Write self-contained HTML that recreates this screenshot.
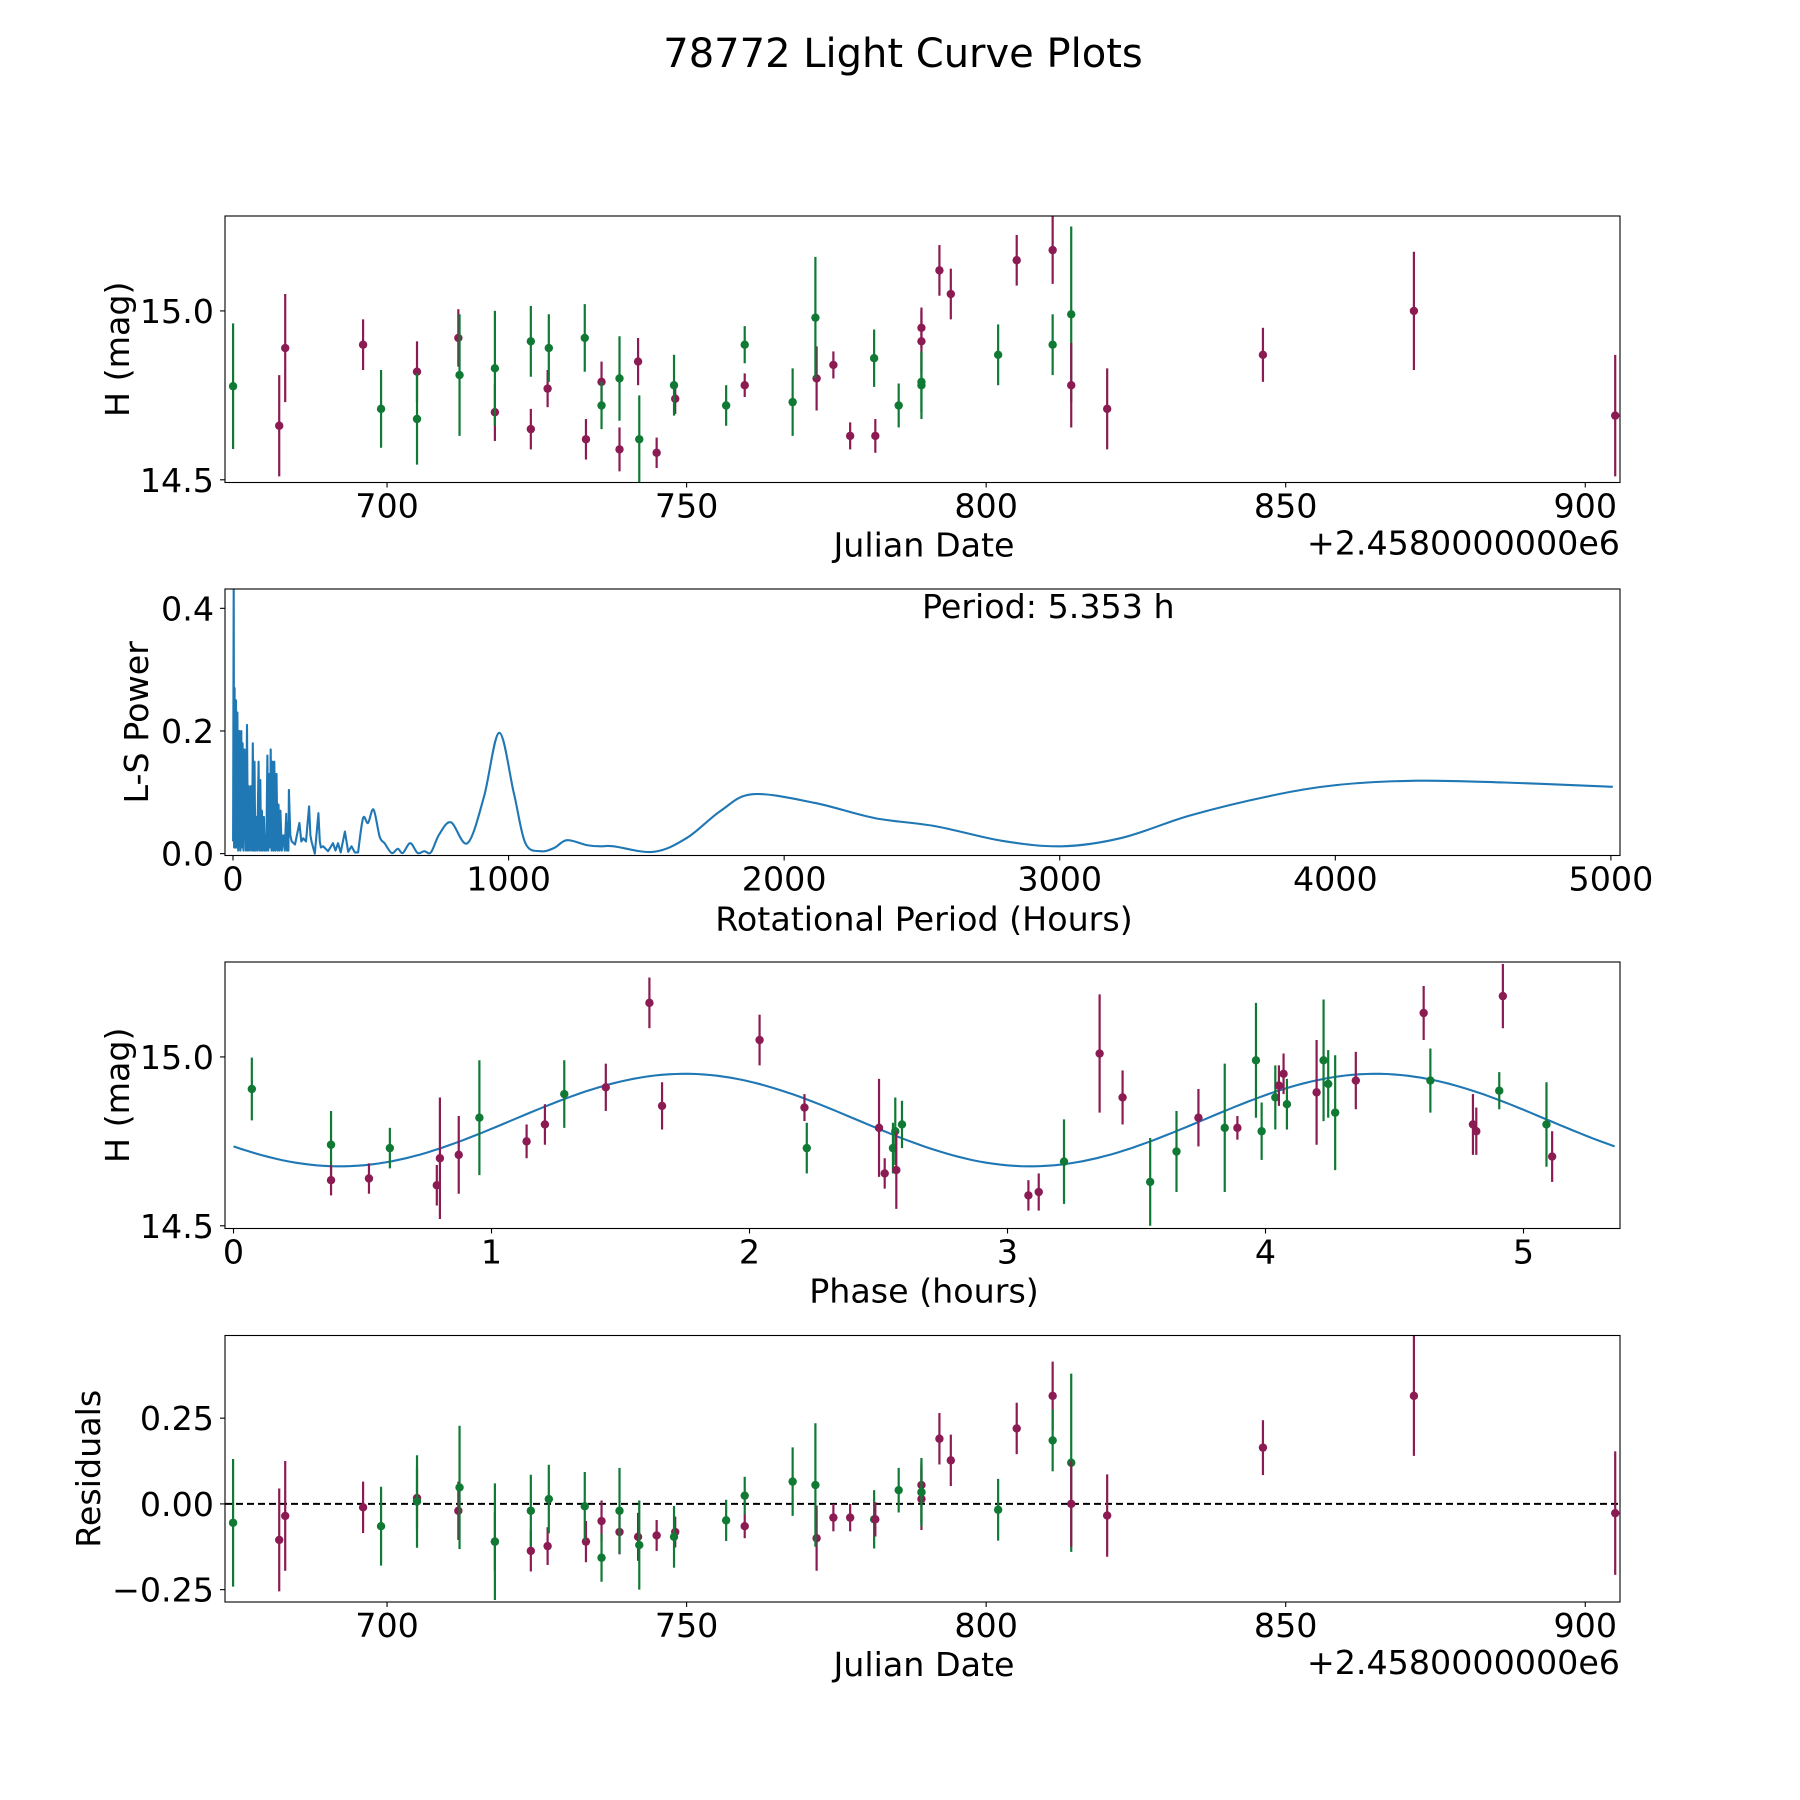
<!DOCTYPE html>
<html><head><meta charset="utf-8"><title>78772 Light Curve Plots</title>
<style>
html,body{margin:0;padding:0;background:#fff;}
svg{display:block;font-family:"DejaVu Sans","Liberation Sans",sans-serif;}
</style></head>
<body>
<svg id="fig" xmlns="http://www.w3.org/2000/svg" width="1800" height="1800" viewBox="0 0 1800 1800">
<rect x="0" y="0" width="1800" height="1800" fill="#fff"/>
<text x="903" y="67" font-size="40" text-anchor="middle">78772 Light Curve Plots</text>
</svg>
<script>
// ---------- data ----------
const obsBand = ["g","m","m","m","g","m","g","m","g","m","g","m","g","m","g","m","g","m","g","m","g","m","g","m","m","g","g","m","g","g","m","g","m","m","g","m","g","m","m","g","g","m","m","g","m","m","g","g","m","m","m","m","m"];
const obsJD = [674.3,682.0,683.0,696.0,699.0,705.0,705.0,711.9,712.1,718.0,718.0,724.0,724.0,726.8,727.0,733.2,733.0,735.8,735.8,738.8,738.8,741.9,742.1,745.0,748.1,747.9,756.6,759.7,759.7,767.7,771.7,771.5,774.5,777.3,781.3,781.5,785.4,789.2,789.2,789.2,789.2,792.2,794.1,802.0,805.1,811.1,811.1,814.2,814.2,820.2,846.2,871.4,905.0];
const obsMag = [14.777,14.66,14.89,14.90,14.71,14.82,14.68,14.92,14.81,14.70,14.83,14.65,14.91,14.77,14.89,14.62,14.92,14.79,14.72,14.59,14.80,14.85,14.62,14.58,14.74,14.78,14.72,14.78,14.90,14.73,14.80,14.98,14.84,14.63,14.86,14.63,14.72,14.91,14.95,14.79,14.78,15.12,15.05,14.87,15.15,15.18,14.90,14.99,14.78,14.71,14.87,15.00,14.69];
const obsErr = [0.186,0.15,0.16,0.075,0.115,0.09,0.135,0.085,0.18,0.085,0.17,0.06,0.105,0.055,0.10,0.06,0.10,0.06,0.07,0.065,0.125,0.07,0.13,0.045,0.045,0.09,0.06,0.035,0.055,0.10,0.095,0.18,0.04,0.04,0.085,0.05,0.065,0.09,0.06,0.09,0.1,0.075,0.075,0.09,0.075,0.10,0.09,0.26,0.125,0.12,0.08,0.175,0.18];
const obsResid = [-0.055,-0.105,-0.035,-0.01,-0.065,0.017,0.007,-0.02,0.048,-0.11,-0.11,-0.137,-0.02,-0.123,0.014,-0.11,-0.007,-0.05,-0.157,-0.082,-0.02,-0.096,-0.12,-0.092,-0.082,-0.096,-0.048,-0.065,0.024,0.065,-0.10,0.055,-0.04,-0.04,-0.045,-0.045,0.04,0.014,0.055,0.034,0.034,0.19,0.127,-0.017,0.22,0.315,0.185,0.12,0.0,-0.034,0.164,0.315,-0.027];

const phBand = ["g","g","m","m","g","m","m","m","g","m","m","g","m","m","m","m","m","g","m","m","g","g","m","g","m","m","g","m","m","g","g","m","g","m","g","g","g","m","m","g","m","g","g","g","m","m","g","m","m","g","m","g","m"];
const phPhase = [0.071,0.378,0.378,0.525,0.606,0.788,0.80,0.873,0.953,1.136,1.207,1.282,1.443,1.612,1.661,2.039,2.213,2.222,2.502,2.524,2.556,2.565,2.569,2.591,3.081,3.121,3.219,3.357,3.446,3.553,3.655,3.74,3.842,3.891,3.963,3.985,4.038,4.052,4.07,4.083,4.198,4.225,4.243,4.27,4.35,4.613,4.639,4.804,4.817,4.906,4.92,5.089,5.111];
const phMag = [14.905,14.74,14.635,14.64,14.73,14.62,14.70,14.71,14.82,14.75,14.80,14.89,14.91,15.16,14.855,15.05,14.85,14.73,14.79,14.655,14.73,14.78,14.665,14.80,14.59,14.60,14.69,15.01,14.88,14.63,14.72,14.82,14.79,14.79,14.99,14.78,14.88,14.915,14.95,14.86,14.895,14.99,14.92,14.835,14.93,15.13,14.93,14.80,14.78,14.90,15.18,14.80,14.705];
const phErr = [0.093,0.10,0.045,0.045,0.06,0.06,0.18,0.115,0.17,0.05,0.06,0.1,0.07,0.075,0.07,0.075,0.04,0.075,0.145,0.045,0.075,0.1,0.115,0.07,0.045,0.055,0.125,0.175,0.08,0.13,0.12,0.085,0.19,0.035,0.17,0.085,0.095,0.06,0.06,0.075,0.155,0.18,0.1,0.17,0.085,0.08,0.095,0.09,0.07,0.055,0.095,0.125,0.075];

// sinusoidal fit parameters: [mean, amplitude, peak phase, sub-period]
const fitParams = [14.813, 0.137, 1.75, 2.6765];
const fitPeriod = [5.353];
const fitRange = [0, 5.353];

const lsPeriod = [0.5,2.4,4,6,8,11,13,16,19,23,27,30,33,35,38,42,47,51,54,57,61,65,69,72,75,78,81,84,88,93,96,99,102,105,108,112,115,117,121,125,128,132,135,137,140,143,147,150,154,158,162,165,169,172,177,183,188,193,196,199,201,203,208,213,225,241,248,255,265,276,281,285,297,310,315,319,327,345,363,372,381,391,406,418,430,442,454,472,490,510,532,550,576,598,616,643,670,694,718,748,791,851,911,966,1019,1061,1116,1164,1212,1284,1332,1381,1527,1648,1770,1886,2109,2329,2547,2790,3009,3228,3471,3763,4006,4298,4614,5007];
const lsPower = [0.02,0.44,0.01,0.27,0.01,0.25,0.01,0.23,0.005,0.20,0.005,0.20,0.01,0.18,0.005,0.17,0.005,0.21,0.005,0.11,0.005,0.11,0.005,0.18,0.005,0.15,0.005,0.06,0.005,0.15,0.005,0.12,0.005,0.07,0.005,0.06,0.005,0.03,0.005,0.16,0.005,0.13,0.01,0.17,0.005,0.15,0.005,0.15,0.005,0.13,0.005,0.08,0.005,0.07,0.005,0.03,0.005,0.065,0.005,0.05,0.005,0.104,0.03,0.02,0.015,0.05,0.02,0.025,0.02,0.077,0.03,0.02,0.0,0.066,0.02,0.01,0.012,0.004,0.017,0.005,0.017,0.002,0.036,0.003,0.012,0.002,0.002,0.058,0.05,0.072,0.028,0.017,0.001,0.008,0.001,0.017,0.001,0.004,0.002,0.031,0.051,0.017,0.093,0.197,0.099,0.017,0.004,0.009,0.022,0.014,0.012,0.012,0.003,0.026,0.070,0.097,0.083,0.058,0.045,0.021,0.012,0.026,0.062,0.094,0.112,0.119,0.116,0.109];

const magTicks = [14.5, 15.0];
const magTickLabels = ["14.5","15.0"];
const jdTicks = [700,750,800,850,900];
const jdTickLabels = ["700","750","800","850","900"];
const lsXTicks = [0,1000,2000,3000,4000,5000];
const lsXTickLabels = ["0","1000","2000","3000","4000","5000"];
const lsYTicks = [0.0,0.2,0.4];
const lsYTickLabels = ["0.0","0.2","0.4"];
const phTicks = [0,1,2,3,4,5];
const phTickLabels = ["0","1","2","3","4","5"];
const resTicks = [-0.25,0.0,0.25];
const resTickLabels = ["\u22120.25","0.00","0.25"];

// ---------- drawing ----------
const NS = "http://www.w3.org/2000/svg";
const fig = document.getElementById("fig");
const COL = {g:"#107a35", m:"#8b1b52"};
const FS = 33.3;
const L = 225, R = 1620, H = 266.5;
const TOPS = [216, 589, 962, 1335.5];
function mk(tag, attrs, parent){
  const e = document.createElementNS(NS, tag);
  for (const k in attrs) e.setAttribute(k, attrs[k]);
  (parent||fig).appendChild(e);
  return e;
}
function lin(d0,d1,r0,r1){ return v => r0 + (v-d0)/(d1-d0)*(r1-r0); }

function makePanel(idx, name, xdom, ydom){
  const top = TOPS[idx], bot = top + H;
  const g = mk("g", {});
  
  
  const cid = "clip"+idx;
  const cp = mk("clipPath", {id:cid}, g);
  mk("rect", {x:L, y:top, width:R-L, height:H}, cp);
  const plot = mk("g", {"clip-path":"url(#"+cid+")"}, g);
  
  
  return {g, plot, top, bot, x:lin(xdom[0],xdom[1],L,R), y:lin(ydom[0],ydom[1],bot,top)};
}
function frame(p, name){
  const r = mk("rect", {x:L, y:p.top, width:R-L, height:H, fill:"none", stroke:"#000", "stroke-width":1.1}, p.g);
  
  
}
function xAxis(p, ticks, labels, name){
  ticks.forEach((t,i)=>{
    const x = p.x(t);
    const tk = mk("line", {x1:x, x2:x, y1:p.bot, y2:p.bot+5, stroke:"#000", "stroke-width":1.1}, p.g);
    
    
    const tx = mk("text", {x:x, y:p.bot+35, "font-size":FS, "text-anchor":"middle"}, p.g);
    
    
    tx.textContent = labels[i];
  });
}
function yAxis(p, ticks, labels, name){
  ticks.forEach((t,i)=>{
    const y = p.y(t);
    const tk = mk("line", {x1:L-5, x2:L, y1:y, y2:y, stroke:"#000", "stroke-width":1.1}, p.g);
    
    
    const tx = mk("text", {x:L-11, y:y+12, "font-size":FS, "text-anchor":"end"}, p.g);
    
    
    tx.textContent = labels[i];
  });
}
function label(p, txt, x, y, rot, nm, anchor){
  const t = mk("text", {x:x, y:y, "font-size":FS, "text-anchor":anchor||"middle"}, p.g);
  if (rot) t.setAttribute("transform", "rotate(-90 "+x+" "+y+")");
  
  
  t.textContent = txt;
}
function errPoints(p, xs, ys, es, bands, nm){
  xs.forEach((xv,i)=>{
    const c = COL[bands[i]];
    const x = p.x(xv);
    const bar = mk("line", {x1:x, x2:x, y1:p.y(ys[i]-es[i]), y2:p.y(ys[i]+es[i]), stroke:c, "stroke-width":2.2}, p.plot);
    
    
    const dot = mk("circle", {cx:x, cy:p.y(ys[i]), r:4.2, fill:c}, p.plot);
    
    
  });
}

// Panel 1: light curve vs JD
const p1 = makePanel(0, "light-curve-panel", [672.95,905.8], [14.492,15.281]);
errPoints(p1, obsJD, obsMag, obsErr, obsBand, "light-curve");
frame(p1, "light-curve"); xAxis(p1, jdTicks, jdTickLabels, "light-curve"); yAxis(p1, magTicks, magTickLabels, "light-curve");
label(p1, "H (mag)", 129, (p1.top+p1.bot)/2, true, "light-curve-y-axis-title");
label(p1, "Julian Date", 924, p1.bot+74, false, "light-curve-x-axis-title");
label(p1, "+2.4580000000e6", R, p1.bot+72, false, "light-curve-x-offset-text", "end");

// Panel 2: periodogram (spiky part as polyline, smooth part as spline)
const p2 = makePanel(1, "periodogram-panel", [-29,5033], [-0.003,0.4315]);
const splitIdx = lsPeriod.indexOf(454);
const px = lsPeriod.map(v=>p2.x(v)), py = lsPower.map(v=>p2.y(v));
let d = "M"+px[0].toFixed(1)+","+py[0].toFixed(1);
for (let i=1;i<=splitIdx;i++) d += " L"+px[i].toFixed(1)+","+py[i].toFixed(1);
for (let i=splitIdx;i<px.length-1;i++){
  const i0=Math.max(i-1,splitIdx), i3=Math.min(i+2,px.length-1);
  const c1x=px[i]+(px[i+1]-px[i0])/6, c1y=py[i]+(py[i+1]-py[i0])/6;
  const c2x=px[i+1]-(px[i3]-px[i])/6, c2y=py[i+1]-(py[i3]-py[i])/6;
  d += " C"+c1x.toFixed(1)+","+c1y.toFixed(1)+" "+c2x.toFixed(1)+","+c2y.toFixed(1)+" "+px[i+1].toFixed(1)+","+py[i+1].toFixed(1);
}
const ln = mk("path", {d:d, fill:"none", stroke:"#1f77b4", "stroke-width":2.1, "stroke-linejoin":"round"}, p2.plot);


frame(p2, "periodogram"); xAxis(p2, lsXTicks, lsXTickLabels, "periodogram"); yAxis(p2, lsYTicks, lsYTickLabels, "periodogram");
label(p2, "L-S Power", 148, (p2.top+p2.bot)/2, true, "periodogram-y-axis-title");
label(p2, "Rotational Period (Hours)", 924, p2.bot+75, false, "periodogram-x-axis-title");
label(p2, "Period: "+fitPeriod[0].toFixed(3)+" h", p2.x(2500), p2.top+29, false, "period-annotation", "start");

// Panel 3: phase-folded
const p3 = makePanel(2, "phase-panel", [-0.033,5.374], [14.492,15.281]);
const cpts = [];
for (let k=0;k<=200;k++){
  const ph = fitRange[0] + (fitRange[1]-fitRange[0])*k/200;
  const m = fitParams[0] + fitParams[1]*Math.cos(2*Math.PI*(ph-fitParams[2])/fitParams[3]);
  cpts.push(p3.x(ph).toFixed(1)+","+p3.y(m).toFixed(1));
}
const fl = mk("polyline", {points:cpts.join(" "), fill:"none", stroke:"#1f77b4", "stroke-width":2.1}, p3.plot);


errPoints(p3, phPhase, phMag, phErr, phBand, "phase");
frame(p3, "phase"); xAxis(p3, phTicks, phTickLabels, "phase"); yAxis(p3, magTicks, magTickLabels, "phase");
label(p3, "H (mag)", 129, (p3.top+p3.bot)/2, true, "phase-y-axis-title");
label(p3, "Phase (hours)", 924, p3.bot+74, false, "phase-x-axis-title");

// Panel 4: residuals
const p4 = makePanel(3, "residuals-panel", [672.95,905.8], [-0.286,0.491]);
const zl = mk("line", {x1:L, x2:R, y1:p4.y(0), y2:p4.y(0), stroke:"#000", "stroke-width":2, "stroke-dasharray":"7,4"}, p4.plot);


errPoints(p4, obsJD, obsResid, obsErr, obsBand, "residual");
frame(p4, "residuals"); xAxis(p4, jdTicks, jdTickLabels, "residuals"); yAxis(p4, resTicks, resTickLabels, "residuals");
label(p4, "Residuals", 100, (p4.top+p4.bot)/2, true, "residuals-y-axis-title");
label(p4, "Julian Date", 924, p4.bot+74, false, "residuals-x-axis-title");
label(p4, "+2.4580000000e6", R, p4.bot+72, false, "residuals-x-offset-text", "end");
</script>
</body></html>
